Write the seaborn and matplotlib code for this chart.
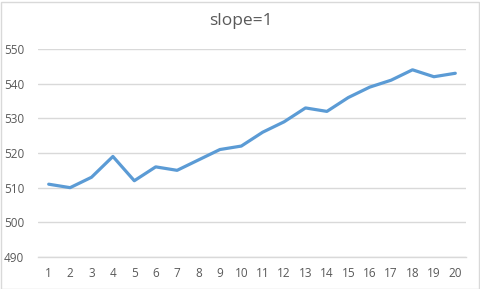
import matplotlib
matplotlib.use("Agg")
import matplotlib.pyplot as plt
import seaborn as sns
import pandas as pd
from matplotlib.patches import Rectangle

x_vals = list(range(1, 21))
y_vals = [511, 510, 513, 519, 512, 516, 515, 518, 521, 522,
          526, 529, 533, 532, 536, 539, 541, 544, 542, 543]
y_ticks = [490, 500, 510, 520, 530, 540, 550]
title = "slope=1"

sns.set_theme(style="white")
plt.rcParams['font.family'] = ['Open Sans', 'DejaVu Sans']

df = pd.DataFrame({"x": x_vals, "y": y_vals})
fig = plt.figure(figsize=(4.81, 2.89), dpi=100)
ax = fig.add_axes([38/481, 32/289, 428/481, 208/289])
sns.lineplot(data=df, x="x", y="y", ax=ax, color="#5B9BD5", linewidth=2.3)
ax.set_xlim(0.5, 20.5)
ax.set_ylim(490, 550)
ax.set_yticks(y_ticks)
ax.set_xticks(x_vals)
ax.set_xticklabels([str(v) for v in x_vals])
ax.grid(axis="y", color="#D9D9D9", linewidth=1)
ax.set_axisbelow(True)
for s in ["top", "right", "left"]:
    ax.spines[s].set_visible(False)
ax.spines["bottom"].set_color("#D9D9D9")
ax.spines["bottom"].set_linewidth(1)
ax.tick_params(axis="both", length=0, labelsize=8.5, colors="#595959")
ax.tick_params(axis="y", pad=10)
ax.tick_params(axis="x", pad=7)
ax.set_xlabel("")
ax.set_ylabel("")
fig.text(0.5, 1 - 21/289, title, ha="center", va="center", fontsize=12.5, color="#595959")
fig.patches.append(Rectangle((0.5/481, 0.5/289), 479/481, 287/289, transform=fig.transFigure,
                             fill=False, edgecolor="#D9D9D9", linewidth=1))
fig.savefig("out.png", dpi=100)
